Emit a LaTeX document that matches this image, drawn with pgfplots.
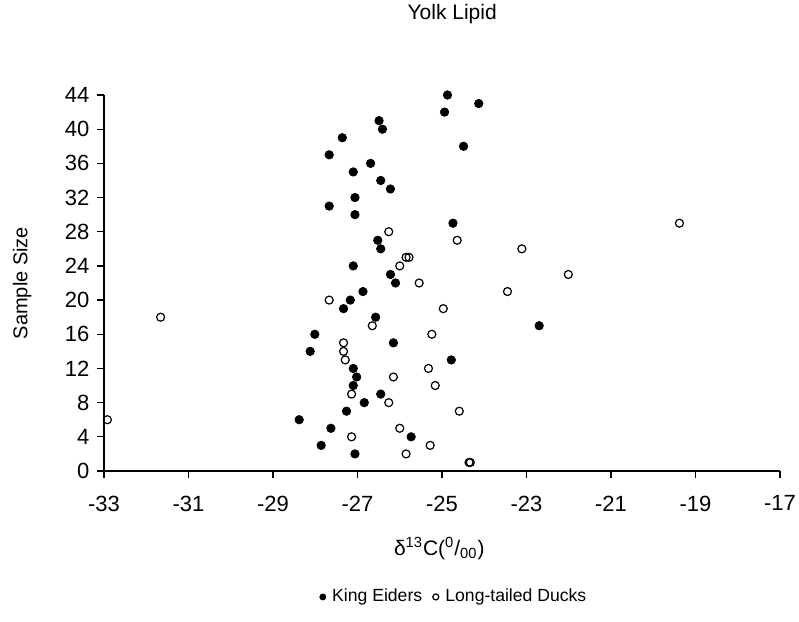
\documentclass[border=0pt]{standalone}
\usepackage{pgfplots}
\pgfplotsset{compat=1.18}
\usepackage{fontspec}
\setmainfont{Liberation Sans}

\begin{document}
\fontsize{11}{13}\selectfont
\begin{tikzpicture}
\begin{axis}[
    scale only axis,
    width=338pt, height=188pt,
    at={(0,0)}, anchor=south west,
    xmin=-33, xmax=-17, ymin=0, ymax=44,
    xtick={-33,-31,...,-17},
    ytick={0,4,...,44},
    axis x line*=bottom,
    axis y line*=left,
    tick align=outside,
    major tick length=3.5pt,
    tick style={black, line width=0.6pt},
    axis line style={black, line width=0.6pt},
    /pgf/number format/assume math mode=true,
    tick label style={font=\fontsize{11}{13}\selectfont},
    xticklabel style={yshift=-5pt},
    title={Yolk Lipid},
    every axis title shift=0pt,
    title style={at={(axis description cs:0.515,1.215)}, anchor=center, font=\fontsize{10.5}{13}\selectfont},
    xlabel={δ\textsuperscript{13}C(\textsuperscript{0}/\textsubscript{00})},
    xlabel style={at={(axis description cs:0.496,-0.205)}, anchor=center, font=\fontsize{10.5}{13}\selectfont},
    ylabel={Sample Size},
    ylabel style={at={(axis description cs:-0.121,0.5)}, anchor=center, font=\fontsize{10}{12}\selectfont},
    legend columns=2,
    legend style={draw=none, at={(axis description cs:0.519,-0.335)}, anchor=center,
        font=\fontsize{8.8}{11}\selectfont,
        /tikz/every even column/.append style={column sep=3pt},
        /tikz/every odd column/.append style={column sep=1pt}},
    legend image code/.code={\draw[#1] (0pt,0pt) circle (1.5pt);},
]
% King Eiders
\addplot[only marks, mark=*, mark size=2.1pt, draw=black, fill=black] coordinates {
    (-24.87,44) (-24.13,43) (-24.94,42) (-26.49,41) (-26.41,40) (-27.36,39)
    (-24.49,38) (-27.67,37) (-26.69,36) (-27.10,35) (-26.45,34) (-26.22,33)
    (-27.06,32) (-27.67,31) (-27.06,30) (-24.74,29) (-26.52,27) (-26.45,26)
    (-27.10,24) (-26.22,23) (-26.10,22) (-26.87,21) (-27.17,20) (-27.33,19)
    (-26.57,18) (-22.70,17) (-28.01,16) (-26.15,15) (-28.12,14) (-24.78,13)
    (-27.10,12) (-27.02,11) (-27.10,10) (-26.45,9) (-26.84,8) (-27.26,7)
    (-28.38,6) (-27.63,5) (-25.73,4) (-27.86,3) (-27.06,2)
};
\addlegendentry{King Eiders}
% Long-tailed Ducks
\addplot[only marks, mark=o, mark size=2pt, draw=black, line width=0.6pt] coordinates {
    (-19.38,29) (-26.26,28) (-24.64,27) (-23.11,26) (-25.85,25) (-25.78,25)
    (-26.00,24) (-22.01,23) (-25.54,22) (-23.45,21) (-27.67,20) (-24.97,19)
    (-31.66,18) (-26.65,17) (-25.24,16) (-27.33,15) (-27.33,14) (-27.29,13)
    (-25.32,12) (-26.15,11) (-25.16,10) (-27.14,9) (-26.26,8) (-24.59,7)
    (-32.92,6) (-26.00,5) (-27.14,4) (-25.28,3) (-25.85,2) (-24.36,1) (-24.33,1)
};
\addlegendentry{Long-tailed Ducks}
\end{axis}
\pgfresetboundingbox
\path[use as bounding box] (-52pt,-75.5pt) rectangle (347.5pt,235.5pt);
\end{tikzpicture}
\end{document}
